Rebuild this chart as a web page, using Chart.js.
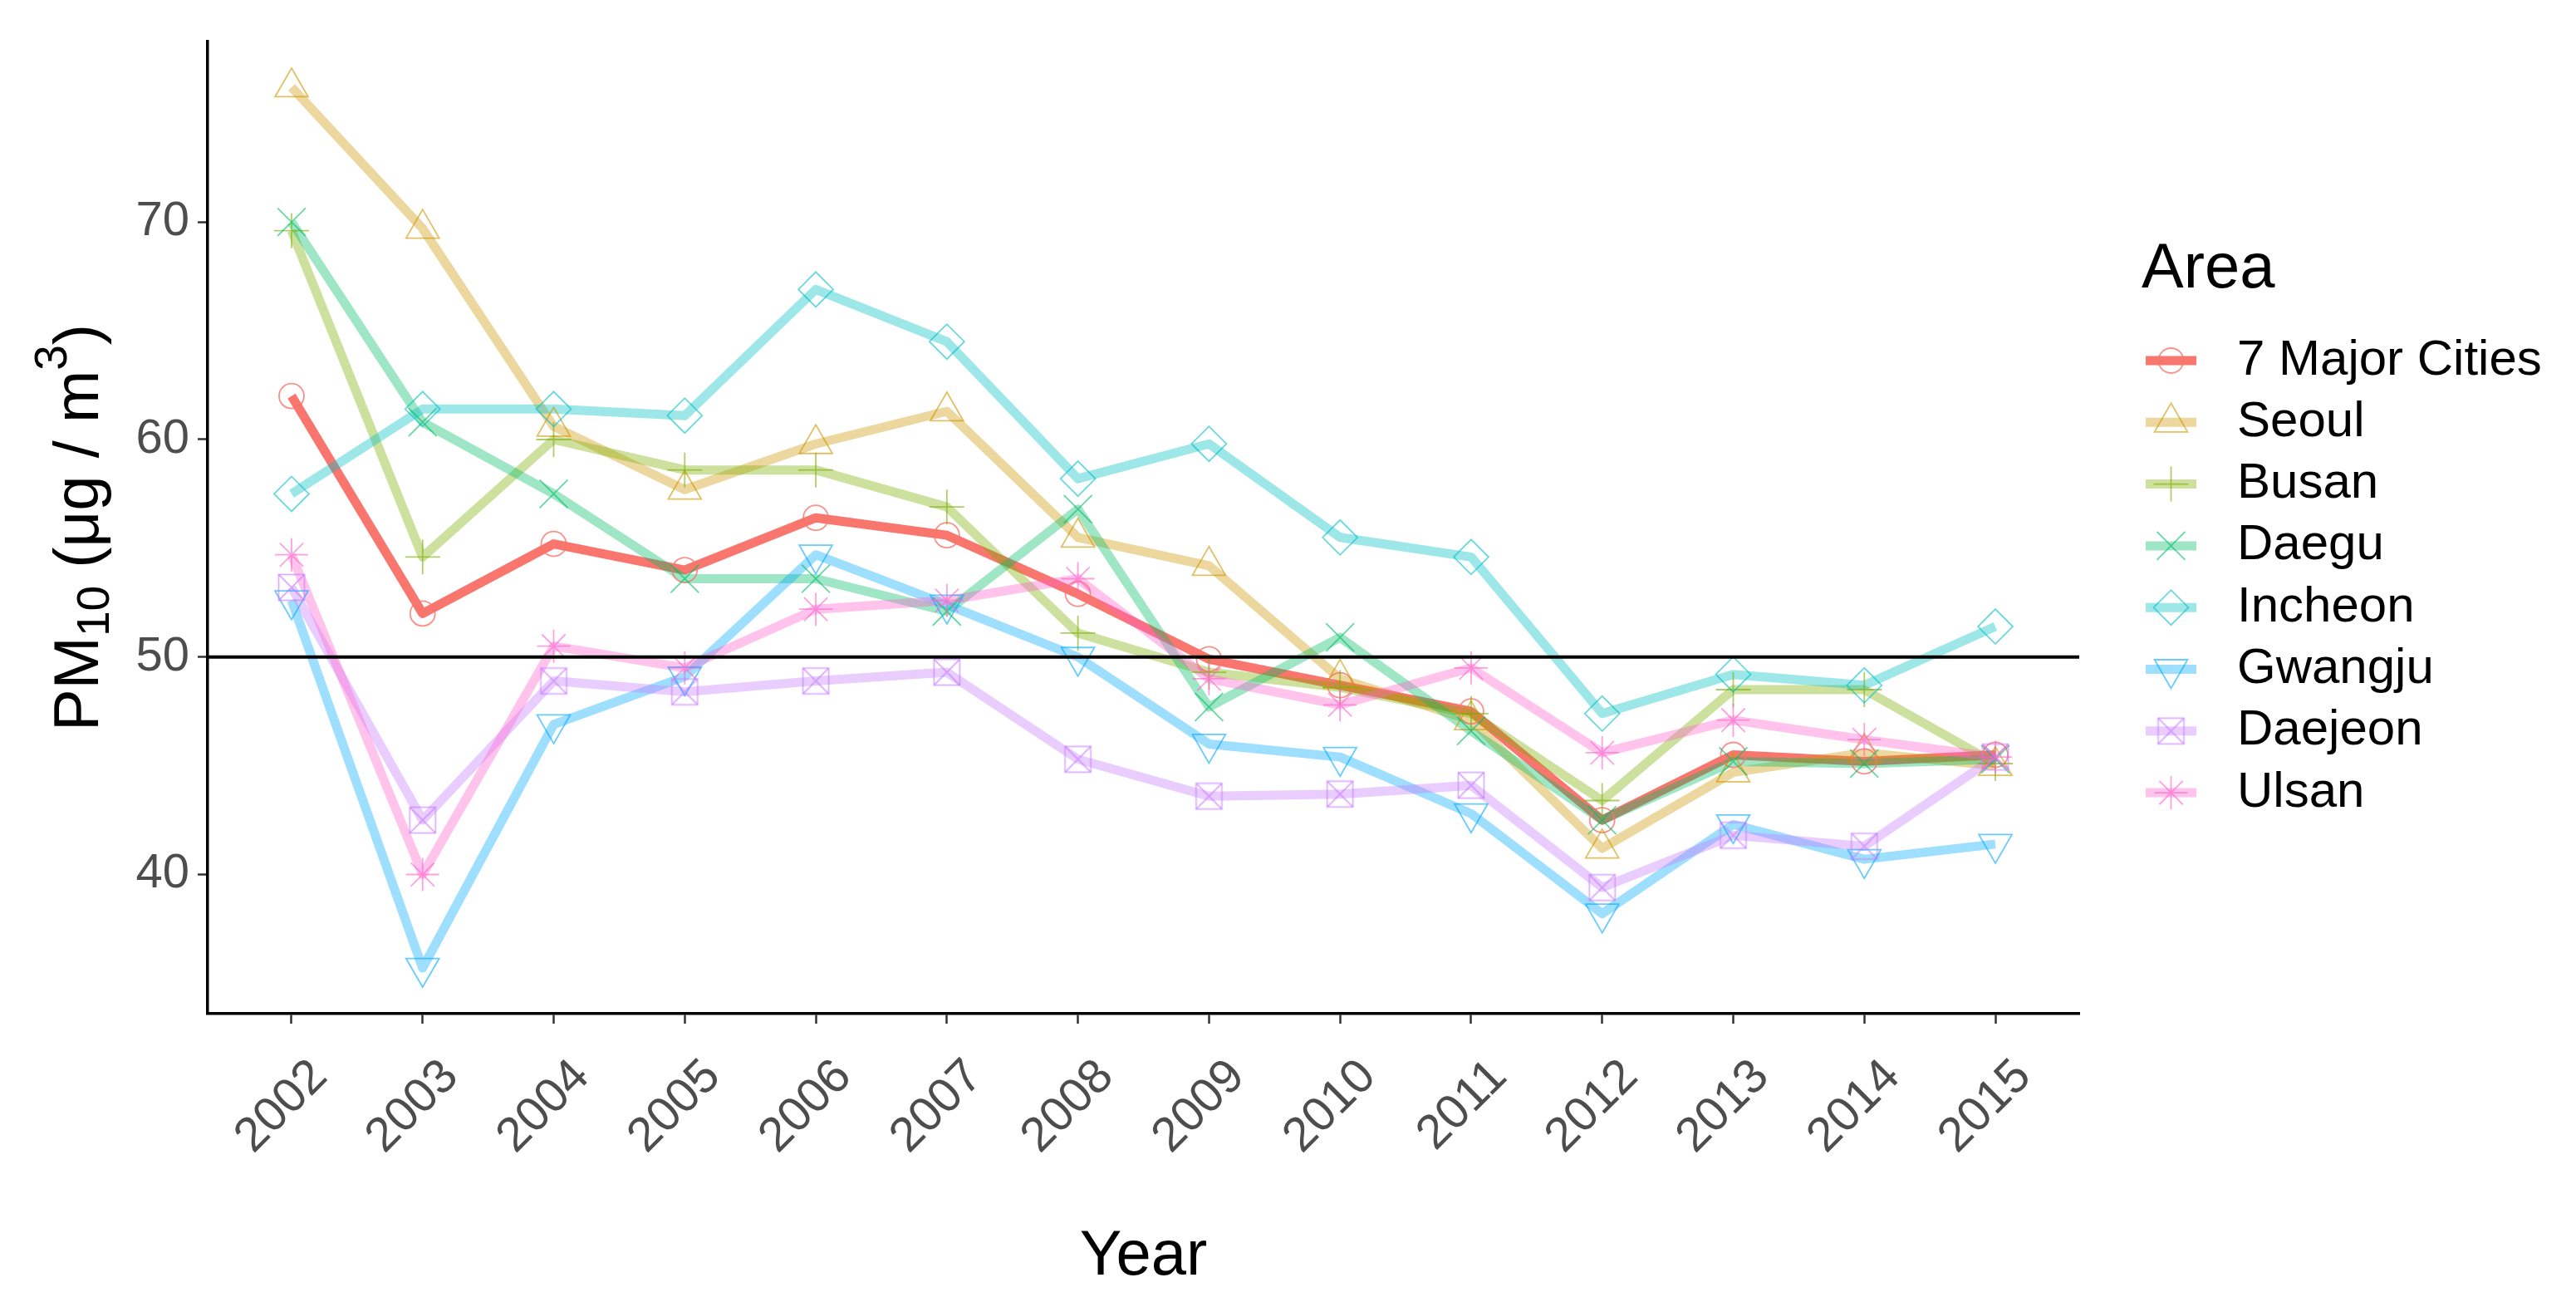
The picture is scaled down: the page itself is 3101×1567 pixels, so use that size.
<!DOCTYPE html>
<html>
<head>
<meta charset="utf-8">
<title>PM10 by area</title>
<script src="https://cdn.jsdelivr.net/npm/chart.js@4.4.0/dist/chart.umd.min.js"></script>
<style>
  html, body { margin: 0; padding: 0; background: #ffffff; }
  canvas { display: block; }
</style>
</head>
<body>
<canvas id="pmChart" width="3101" height="1567"></canvas>
<script>
// ---------------- DATA ----------------
const years = [2002, 2003, 2004, 2005, 2006, 2007, 2008, 2009, 2010, 2011, 2012, 2013, 2014, 2015];
const areaNames = ['7 Major Cities', 'Seoul', 'Busan', 'Daegu', 'Incheon', 'Gwangju', 'Daejeon', 'Ulsan'];

const majorCities = [62.0, 52.0, 55.2, 54.0, 56.4, 55.6, 52.9, 49.9, 48.7, 47.5, 42.5, 45.5, 45.2, 45.5];
const seoul       = [76.2, 69.7, 60.6, 57.7, 59.8, 61.3, 55.5, 54.2, 49.0, 47.1, 41.2, 44.7, 45.6, 45.0];
const busan       = [69.6, 54.6, 60.0, 58.6, 58.6, 56.9, 51.1, 49.3, 48.6, 47.4, 43.4, 48.5, 48.5, 45.1];
const daegu       = [70.0, 60.8, 57.5, 53.6, 53.6, 52.1, 56.8, 47.7, 50.9, 46.6, 42.5, 45.2, 45.1, 45.3];
const incheon     = [57.5, 61.4, 61.4, 61.1, 66.9, 64.5, 58.2, 59.8, 55.5, 54.6, 47.4, 49.2, 48.7, 51.4];
const gwangju     = [52.6, 35.7, 46.9, 49.1, 54.7, 52.4, 50.0, 46.0, 45.4, 42.8, 38.2, 42.3, 40.7, 41.4];
const daejeon     = [53.2, 42.5, 48.9, 48.4, 48.9, 49.3, 45.3, 43.6, 43.7, 44.1, 39.4, 41.8, 41.3, 45.4];
const ulsan       = [54.7, 40.0, 50.5, 49.5, 52.2, 52.6, 53.6, 49.0, 47.8, 49.5, 45.6, 47.1, 46.2, 45.4];

const yTicks = [40, 50, 60, 70];
const limitValue = 50;   // linea de referencia

// ---------------- ESTILO ----------------
const FONT = "'Liberation Sans', Arial, sans-serif";
const hues = ['#F8766D', '#CD9600', '#7CAE00', '#00BE67', '#00BFC4', '#00A9FF', '#C77CFF', '#FF61CC'];

function rgba(hex, a) {
  const n = parseInt(hex.slice(1), 16);
  return `rgba(${(n >> 16) & 255},${(n >> 8) & 255},${n & 255},${a})`;
}

// cuadrado con X (shape 7 de ggplot) no existe en Chart.js -> imagen
function squareCross(color) {
  const c = document.createElement('canvas');
  c.width = 36; c.height = 36;
  const g = c.getContext('2d');
  g.strokeStyle = color;
  g.lineWidth = 1.8;
  g.strokeRect(2.5, 2.5, 31, 31);
  g.beginPath();
  g.moveTo(2.5, 2.5); g.lineTo(33.5, 33.5);
  g.moveTo(33.5, 2.5); g.lineTo(2.5, 33.5);
  g.stroke();
  return c;
}

const seriesValues = [majorCities, seoul, busan, daegu, incheon, gwangju, daejeon, ulsan];
const markers = [
  { style: 'circle',   radius: 15, rotation: 0 },
  { style: 'triangle', radius: 23, rotation: 0 },
  { style: 'cross',    radius: 21, rotation: 0 },
  { style: 'crossRot', radius: 24, rotation: 0 },
  { style: 'rectRot',  radius: 21, rotation: 0 },
  { style: 'triangle', radius: 23, rotation: 180 },
  { style: null,       radius: 18, rotation: 0 },
  { style: 'star',     radius: 20, rotation: 0 }
];
const lineAlpha  = [1, 0.38, 0.38, 0.38, 0.38, 0.38, 0.38, 0.38];
const pointAlpha = [0.8, 0.6, 0.6, 0.6, 0.6, 0.6, 0.6, 0.6];

markers[6].style = squareCross(rgba(hues[6], pointAlpha[6]));

const xMin = 2001.36, xMax = 2015.64;

// ---------------- DATASETS ----------------
const datasets = [];
areaNames.forEach((name, i) => {
  const pts = years.map((yr, j) => ({ x: yr, y: seriesValues[i][j] }));
  datasets.push({
    label: name,
    data: pts,
    borderColor: rgba(hues[i], lineAlpha[i]),
    borderWidth: 11,
    borderJoinStyle: 'round',
    borderCapStyle: 'butt',
    pointRadius: 0,
    tension: 0,
    order: 30 - i
  });
  datasets.push({
    label: name + ' points',
    data: pts,
    showLine: false,
    pointStyle: markers[i].style,
    pointRadius: markers[i].radius,
    pointRotation: markers[i].rotation,
    pointBorderWidth: 1.8,
    pointBorderColor: rgba(hues[i], pointAlpha[i]),
    pointBackgroundColor: 'rgba(0,0,0,0)',
    order: 20 - i
  });
});
datasets.push({
  label: 'limit',
  data: [{ x: xMin, y: limitValue }, { x: xMax, y: limitValue }],
  borderColor: '#000000',
  borderWidth: 4,
  pointRadius: 0,
  order: 0
});

// ---------------- LEYENDA Y TITULO Y ----------------
const extrasPlugin = {
  id: 'extras',
  afterDraw(chart) {
    const ctx = chart.ctx;
    ctx.save();

    // titulo eje Y: PM10 (ug / m3) con sub y superindice
    const big = `76px ${FONT}`, small = `55px ${FONT}`;
    const parts = [
      { t: 'PM', f: big, dy: 0 },
      { t: '10', f: small, dy: 13 },
      { t: ' (\u03BCg / m', f: big, dy: 0 },
      { t: '3', f: small, dy: -38 },
      { t: ')', f: big, dy: 0 }
    ];
    let total = 0;
    parts.forEach(p => { ctx.font = p.f; p.w = ctx.measureText(p.t).width; total += p.w; });
    const area = chart.chartArea;
    ctx.translate(118, (area.top + area.bottom) / 2);
    ctx.rotate(-Math.PI / 2);
    ctx.fillStyle = '#000000';
    ctx.textBaseline = 'alphabetic';
    ctx.textAlign = 'left';
    let u = -total / 2;
    parts.forEach(p => { ctx.font = p.f; ctx.fillText(p.t, u, p.dy); u += p.w; });
    ctx.setTransform(1, 0, 0, 1, 0, 0);

    // leyenda
    ctx.fillStyle = '#000000';
    ctx.font = `76px ${FONT}`;
    ctx.fillText('Area', 2578, 346);
    const keyX = 2583, keyW = 61, labelX = 2693, rowY = 434, rowGap = 74.3;
    areaNames.forEach((name, i) => {
      const y = rowY + i * rowGap;
      ctx.strokeStyle = rgba(hues[i], lineAlpha[i]);
      ctx.lineWidth = 11;
      ctx.lineCap = 'butt';
      ctx.beginPath();
      ctx.moveTo(keyX, y);
      ctx.lineTo(keyX + keyW, y);
      ctx.stroke();
      ctx.strokeStyle = rgba(hues[i], pointAlpha[i]);
      ctx.fillStyle = 'rgba(0,0,0,0)';
      ctx.lineWidth = 1.8;
      Chart.helpers.drawPoint(ctx, {
        pointStyle: markers[i].style,
        radius: markers[i].radius,
        rotation: markers[i].rotation,
        borderWidth: 1.8
      }, keyX + keyW / 2, y);
      ctx.fillStyle = '#000000';
      ctx.font = `60px ${FONT}`;
      ctx.textBaseline = 'middle';
      ctx.fillText(name, labelX, y);
      ctx.textBaseline = 'alphabetic';
    });
    ctx.restore();
  }
};

// ---------------- GRAFICA ----------------
const ctx = document.getElementById('pmChart').getContext('2d');
new Chart(ctx, {
  type: 'line',
  data: { datasets },
  options: {
    responsive: false,
    animation: false,
    devicePixelRatio: 1,
    layout: { padding: { top: 50, right: 598, bottom: 0, left: 0 } },
    plugins: { legend: { display: false }, tooltip: { enabled: false } },
    scales: {
      x: {
        type: 'linear',
        min: xMin,
        max: xMax,
        afterBuildTicks: s => { s.ticks = years.map(v => ({ value: v })); },
        afterFit: s => { s.height = 347; },
        ticks: {
          autoSkip: false,
          minRotation: 45,
          maxRotation: 45,
          padding: 30,
          labelOffset: 34,
          color: '#4D4D4D',
          font: { family: FONT, size: 58 },
          callback: v => String(v)
        },
        grid: { drawOnChartArea: false, tickLength: 12, tickColor: '#333333', tickWidth: 2.5 },
        border: { color: '#000000', width: 3.5 },
        title: {
          display: true,
          text: 'Year',
          color: '#000000',
          font: { family: FONT, size: 76 },
          padding: { top: 0, bottom: 8 }
        }
      },
      y: {
        min: 33.6,
        max: 78.3,
        afterBuildTicks: s => { s.ticks = yTicks.map(v => ({ value: v })); },
        afterFit: s => { s.width = 250; },
        ticks: {
          padding: 10,
          color: '#4D4D4D',
          font: { family: FONT, size: 58 },
          callback: v => String(v)
        },
        grid: { drawOnChartArea: false, tickLength: 12, tickColor: '#333333', tickWidth: 2.5 },
        border: { color: '#000000', width: 3.5 }
      }
    }
  },
  plugins: [extrasPlugin]
});
</script>
</body>
</html>
